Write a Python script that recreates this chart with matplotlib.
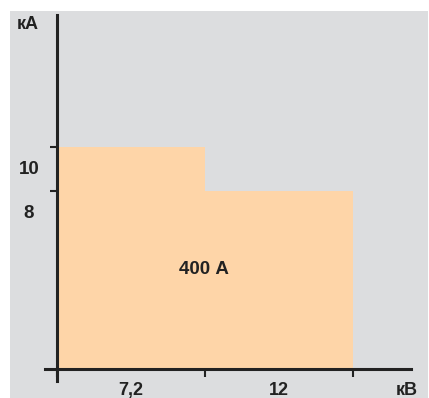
import matplotlib.pyplot as plt
from matplotlib.patches import Rectangle

plt.rcParams['font.family'] = ['Liberation Sans', 'DejaVu Sans']

# data
bins = [0, 1]
currents = [10, 8]            # kA
voltage_labels = ["7,2", "12"]
current_ticks = [10, 8]
current_labels = ["10", "8"]
bar_label = "400 А"

W, H = 429, 398
fig = plt.figure(figsize=(W / 100, H / 100), dpi=100, facecolor="white")

# grey panel behind everything
bg = fig.add_axes([0, 0, 1, 1], zorder=-10)
bg.axis("off")
bg.add_patch(Rectangle((10 / W, 0), 418 / W, 387 / H, transform=bg.transAxes,
                       facecolor="#dcdddf", edgecolor="none"))

ax = fig.add_axes([45 / W, 17 / H, 366 / W, 366 / H])
ax.set_facecolor("none")
ax.set_xlim(-0.081, 2.392)
ax.set_ylim(-0.54, 15.95)

ax.bar(bins, currents, width=1, align="edge", color="#fed5a8", zorder=1)

for s in ["top", "right"]:
    ax.spines[s].set_visible(False)
for s in ["left", "bottom"]:
    ax.spines[s].set_position(("data", 0))
    ax.spines[s].set_linewidth(2.2)
    ax.spines[s].set_color("#222222")
    ax.spines[s].set_zorder(3)

ax.set_xticks([0, 1, 2])
ax.set_xticklabels([])
ax.set_yticks(current_ticks)
ax.set_yticklabels([])
ax.tick_params(axis="x", direction="out", length=6, width=1.5, color="#222222")
ax.tick_params(axis="y", direction="out", length=5, width=1.5, color="#222222")

txt = dict(fontweight="bold", color="#222222", clip_on=False)
for i, lab in enumerate(voltage_labels):
    ax.text(bins[i] + 0.5, -0.95, lab, ha="center", va="center", fontsize=13, **txt)
for v, lab in zip(current_ticks, current_labels):
    ax.text(-0.19, v - 1, lab, ha="center", va="center", fontsize=13.5, **txt)

ax.text(0.99, 4.5, bar_label, ha="center", va="center", fontsize=13.5, **txt)
ax.text(2.36, -0.95, "кВ", ha="center", va="center", fontsize=13, **txt)
ax.text(-0.2, 15.5, "кА", ha="center", va="center", fontsize=13, **txt)

fig.savefig("out.png", dpi=100, facecolor="white")
